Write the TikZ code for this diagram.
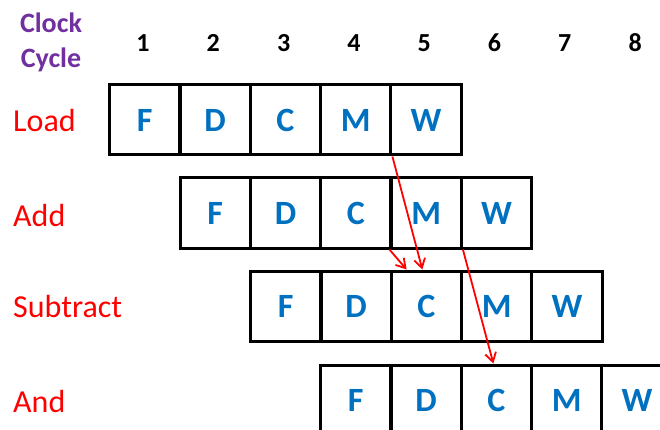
\documentclass[tikz,border=0pt]{standalone}
\usepackage{fontspec}
\setmainfont{Carlito}
\usetikzlibrary{arrows.meta,calc}
\definecolor{cellblue}{RGB}{0,112,192}
\definecolor{clockpurple}{RGB}{112,48,160}
\definecolor{instred}{RGB}{255,0,0}
\tikzset{
  cell/.style={draw=black, line width=3pt, minimum width=70.5pt, minimum height=70pt,
    inner sep=0pt, font=\fontsize{34}{36}\selectfont\bfseries, text=cellblue, anchor=west},
  instr/.style={font=\fontsize{32}{34}\selectfont, text=instred, anchor=west, inner sep=0pt},
  num/.style={font=\fontsize{26}{28}\selectfont\bfseries, text=black, inner sep=0pt},
  hazard/.style={draw=instred, line width=1.8pt, -{Straight Barb[length=9pt,width=11pt,line width=1.8pt]}}
}
\begin{document}
\begin{tikzpicture}[x=1pt,y=-1pt]
\path[use as bounding box, clip] (0,0) rectangle (660,430);
% header
\node[font=\fontsize{28}{35}\selectfont\bfseries, text=clockpurple, align=center, inner sep=0pt] (clk) at (51,42.5) {Clock\\Cycle};
\foreach \i in {1,...,8} {
  \node[num] (n\i) at ({143+70.3*(\i-1)},43) {\i};
}
% instruction labels
\node[instr] (lload) at (13,121) {Load};
\node[instr] (ladd) at (13,215) {Add};
\node[instr] (lsub) at (13,307) {Subtract};
\node[instr] (land) at (13,401) {And};
% rows
\foreach \r/\x/\y in {L/108/120, A/178.5/213, S/249/306, N/319/400} {
  \foreach \s [count=\k] in {F,D,C,M,W} {
    \node[cell] (\r\k) at ({\x+70.3*(\k-1)},\y) {\s};
  }
}
% hazard arrows
\draw[hazard] (L4.south east) -- ($(S3.north)+(-4,0)$);
\draw[hazard] (A4.south west) -- ($(S3.north west)+(17,0)$);
\draw[hazard] (A4.south east) -- ($(N3.north)+(-3,0)$);
\end{tikzpicture}
\end{document}
